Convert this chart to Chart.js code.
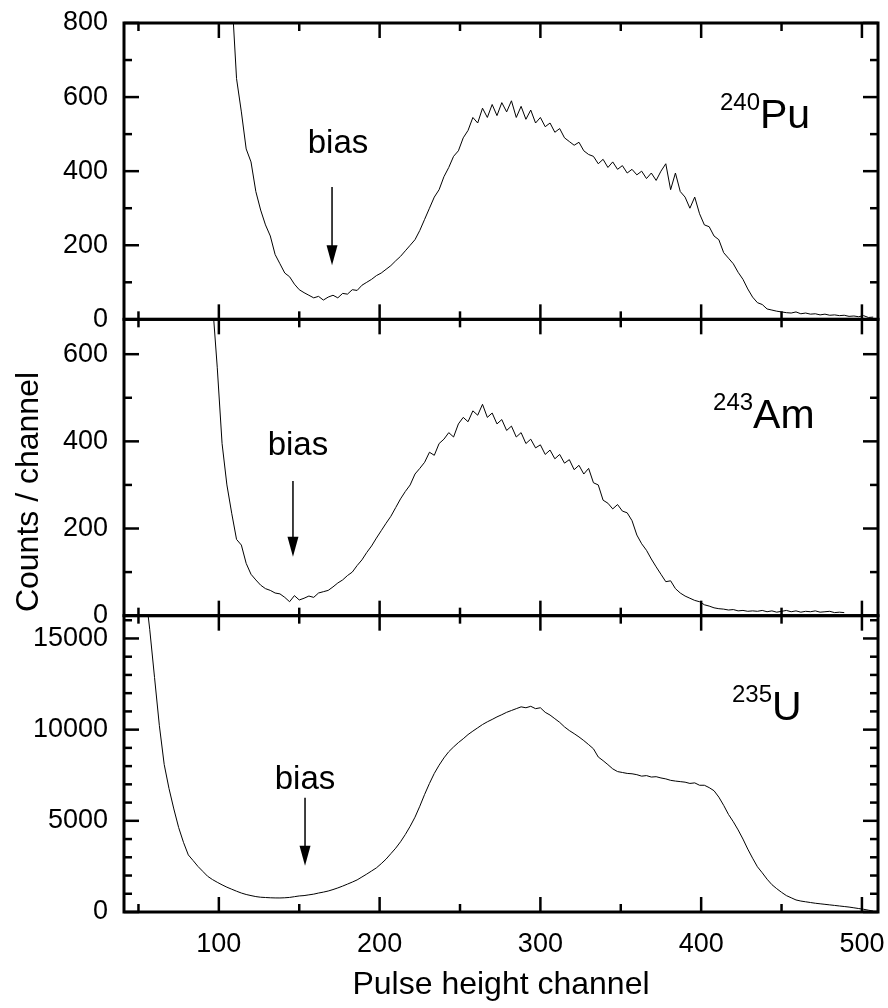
<!DOCTYPE html>
<html>
<head>
<meta charset="utf-8">
<script src="https://cdn.jsdelivr.net/npm/chart.js@4.4.1/dist/chart.umd.min.js"></script>
<style>
html,body{margin:0;padding:0;background:#fff;}
canvas{display:block;}
</style>
</head>
<body>
<canvas id="c" width="888" height="1008"></canvas>
<script>
// ---------------- data ----------------
const puChannels = [
108,111,114,117,120,123,126,129,132,135,
138,141,144,147,150,153,156,159,162,165,
168,171,174,177,180,183,186,189,192,195,
198,201,204,207,210,213,216,219,222,225,
228,231,234,237,240,243,246,249,252,255,
258,261,264,267,270,273,276,279,282,285,
288,291,294,297,300,303,306,309,312,315,
318,321,324,327,330,333,336,339,342,345,
348,351,354,357,360,363,366,369,372,375,
378,381,384,387,390,393,396,399,402,405,
408,411,414,417,420,423,426,429,432,435,
438,441,444,447,450,453,456,459,462,465,
468,471,474,477,480,483,486,489,492,495,
498,501,504,507];
const puCounts = [
880,650,560,460,425,345,295,255,225,175,
150,125,115,95,80,72,65,58,62,52,
60,65,58,70,68,80,78,92,100,108,
118,125,135,145,158,170,185,200,215,240,
270,300,330,350,385,410,440,455,490,510,
545,530,570,545,580,550,585,560,590,545,
575,540,565,530,545,520,530,505,515,490,
480,470,478,455,445,440,420,432,410,425,
405,415,395,405,390,400,380,395,375,400,
420,350,395,345,330,300,330,285,255,250,
225,215,180,165,150,127,108,82,60,45,
40,28,25,22,20,18,17,20,15,17,
14,15,12,14,11,12,10,11,8,9,
7,10,5,6];

const amChannels = [
96,99,102,105,108,111,114,117,120,123,
126,129,132,135,138,141,144,147,150,153,
156,159,162,165,168,171,174,177,180,183,
186,189,192,195,198,201,204,207,210,213,
216,219,222,225,228,231,234,237,240,243,
246,249,252,255,258,261,264,267,270,273,
276,279,282,285,288,291,294,297,300,303,
306,309,312,315,318,321,324,327,330,333,
336,339,342,345,348,351,354,357,360,363,
366,369,372,375,378,381,384,387,390,393,
396,399,402,405,408,411,414,417,420,423,
426,429,432,435,438,441,444,447,450,453,
456,459,462,465,468,471,474,477,480,483,
486,489];
const amCounts = [
720,570,395,300,235,175,162,120,95,82,
70,62,58,52,50,42,32,46,36,40,
45,42,52,55,58,66,75,82,92,100,
115,128,145,160,178,195,212,228,248,268,
285,300,325,338,352,375,368,395,405,420,
410,440,455,445,470,460,485,455,465,440,
450,425,435,410,420,395,405,385,392,370,
380,360,370,350,358,335,345,325,338,305,
300,265,258,245,255,240,236,218,185,165,
150,130,112,95,78,80,62,52,45,40,
35,32,25,22,18,16,15,13,14,11,
12,10,11,10,12,9,11,8,10,12,
9,11,8,10,9,11,8,9,10,7,
8,7];

const uChannels = [
54,57,60,63,66,69,72,75,78,81,
84,87,90,93,96,99,102,105,108,111,
114,117,120,123,126,129,132,135,138,141,
144,147,150,153,156,159,162,165,168,171,
174,177,180,183,186,189,192,195,198,201,
204,207,210,213,216,219,222,225,228,231,
234,237,240,243,246,249,252,255,258,261,
264,267,270,273,276,279,282,285,288,291,
294,297,300,303,306,309,312,315,318,321,
324,327,330,333,336,339,342,345,348,351,
354,357,360,363,366,369,372,375,378,381,
384,387,390,393,396,399,402,405,408,411,
414,417,420,423,426,429,432,435,438,441,
444,447,450,453,456,459,462,465,468,471,
474,477,480,483,486,489,492,495,498,501,
504,507];
const uCounts = [
17800,15500,12860,10220,8090,6770,5650,4630,3820,3130,
2820,2500,2230,1960,1780,1630,1490,1360,1250,1140,
1040,960,900,845,810,795,780,772,770,780,
800,840,880,900,940,980,1040,1090,1150,1230,
1320,1420,1530,1640,1760,1920,2080,2250,2420,2650,
2900,3200,3500,3850,4250,4700,5200,5800,6450,7050,
7600,8050,8450,8790,9050,9290,9500,9730,9920,10100,
10280,10430,10560,10700,10820,10950,11050,11150,11250,11200,
11280,11150,11200,10950,10800,10600,10400,10150,9950,9780,
9600,9400,9180,8950,8500,8300,8080,7850,7700,7650,
7600,7580,7530,7450,7480,7400,7420,7350,7300,7220,
7180,7150,7120,7050,7080,6950,6950,6820,6650,6300,
5850,5350,4950,4500,4000,3450,2950,2480,2150,1800,
1500,1280,1080,900,780,660,600,560,520,480,
450,420,390,360,330,300,270,230,190,150,
100,50];

// tick values
const xMajorTicks = [100, 200, 300, 400, 500];
const xMinorTicks = [50, 150, 250, 350, 450];
const puMajorTicks = [0, 200, 400, 600, 800];
const puMinorTicks = [100, 300, 500, 700];
const amMajorTicks = [0, 200, 400, 600];
const amMinorTicks = [100, 300, 500];
const uMajorTicks = [0, 5000, 10000, 15000];
const uMinorTicks = [1000, 2000, 3000, 4000, 6000, 7000, 8000, 9000, 11000, 12000, 13000, 14000, 16000];

// annotations (data coordinates)
const isotopeLabels = [
  {axis: 'yPu', mass: '240', symbol: 'Pu', ch: 411.7, val: 516},
  {axis: 'yAm', mass: '243', symbol: 'Am', ch: 407.4, val: 430},
  {axis: 'yU',  mass: '235', symbol: 'U',  ch: 419.2, val: 10550}
];
const biasLabels = [
  {axis: 'yPu', ch: 174.1, val: 449},
  {axis: 'yAm', ch: 149.2, val: 368},
  {axis: 'yU',  ch: 153.6, val: 6760}
];
const biasArrows = [
  {axis: 'yPu', ch: 170.4, from: 357, to: 146},
  {axis: 'yAm', ch: 146.1, from: 309, to: 135},
  {axis: 'yU',  ch: 153.6, from: 6260, to: 2530}
];

// ---------------- chart ----------------
const FONT = '"Liberation Sans", Arial, Helvetica, sans-serif';
const toXY = (xs, ys) => xs.map((x, i) => ({x: x, y: ys[i]}));

const panels = [
  {id: 'yPu', major: puMajorTicks, minor: puMinorTicks},
  {id: 'yAm', major: amMajorTicks, minor: amMinorTicks},
  {id: 'yU',  major: uMajorTicks,  minor: uMinorTicks}
];

const MAJ = 15, MIN = 8;

function line(ctx, x1, y1, x2, y2) {
  ctx.beginPath(); ctx.moveTo(x1, y1); ctx.lineTo(x2, y2); ctx.stroke();
}

const framePlugin = {
  id: 'frame',
  beforeDatasetDraw(chart, args) {
    const ds = chart.data.datasets[args.index];
    const s = chart.scales[ds.yAxisID];
    const ca = chart.chartArea;
    chart.ctx.save();
    chart.ctx.beginPath();
    chart.ctx.rect(ca.left, s.top, ca.right - ca.left, s.bottom - s.top);
    chart.ctx.clip();
  },
  afterDatasetDraw(chart) {
    chart.ctx.restore();
  },
  afterDraw(chart) {
    const ctx = chart.ctx, xs = chart.scales.x, ca = chart.chartArea;
    ctx.save();
    ctx.strokeStyle = '#000';
    ctx.fillStyle = '#000';
    ctx.lineCap = 'butt';
    panels.forEach(p => {
      const s = chart.scales[p.id];
      ctx.lineWidth = 3;
      ctx.strokeRect(ca.left, s.top, ca.right - ca.left, s.bottom - s.top);
      ctx.lineWidth = 2.5;
      const drawY = (vals, len) => vals.forEach(v => {
        if (v < s.min || v > s.max) return;
        const y = s.getPixelForValue(v);
        line(ctx, ca.left, y, ca.left + len, y);
        line(ctx, ca.right, y, ca.right - len, y);
      });
      drawY(p.major, MAJ);
      drawY(p.minor, MIN);
      const drawX = (vals, len) => vals.forEach(v => {
        if (v < xs.min || v > xs.max) return;
        const x = xs.getPixelForValue(v);
        line(ctx, x, s.top, x, s.top + len);
        line(ctx, x, s.bottom, x, s.bottom - len);
      });
      drawX(xMajorTicks, MAJ);
      drawX(xMinorTicks, MIN);
    });

    // isotope labels
    ctx.textBaseline = 'alphabetic';
    ctx.textAlign = 'left';
    isotopeLabels.forEach(l => {
      const s = chart.scales[l.axis];
      const x = xs.getPixelForValue(l.ch);
      const y = s.getPixelForValue(l.val);
      ctx.font = '24px ' + FONT;
      ctx.fillText(l.mass, x, y - 18);
      const w = ctx.measureText(l.mass).width;
      ctx.font = '41px ' + FONT;
      ctx.fillText(l.symbol, x + w, y);
    });

    // bias labels
    ctx.font = '33px ' + FONT;
    ctx.textAlign = 'center';
    biasLabels.forEach(l => {
      const s = chart.scales[l.axis];
      ctx.fillText('bias', xs.getPixelForValue(l.ch), s.getPixelForValue(l.val));
    });

    // arrows
    ctx.lineWidth = 1.5;
    biasArrows.forEach(a => {
      const s = chart.scales[a.axis];
      const x = xs.getPixelForValue(a.ch);
      const y1 = s.getPixelForValue(a.from);
      const y2 = s.getPixelForValue(a.to);
      line(ctx, x, y1, x, y2 - 16);
      ctx.beginPath();
      ctx.moveTo(x - 5.5, y2 - 20);
      ctx.lineTo(x + 5.5, y2 - 20);
      ctx.lineTo(x, y2);
      ctx.closePath();
      ctx.fill();
    });

    // y title
    ctx.save();
    ctx.font = '32px ' + FONT;
    ctx.textAlign = 'center';
    ctx.textBaseline = 'middle';
    ctx.translate(29, 492);
    ctx.rotate(-Math.PI / 2);
    ctx.fillText('Counts / channel', 0, 0);
    ctx.restore();

    ctx.restore();
  }
};

const noPad = s => { s.paddingTop = 0; s.paddingBottom = 0; s.paddingLeft = 0; s.paddingRight = 0; };

const yCommon = (min, max, major) => ({
  type: 'linear',
  position: 'left',
  stack: 'panels',
  stackWeight: 1,
  min: min,
  max: max,
  grid: {display: false, drawTicks: false},
  border: {display: false},
  ticks: {font: {family: FONT, size: 27}, color: '#000', padding: 16, autoSkip: false,
          callback: v => String(v)},
  afterBuildTicks: s => { s.ticks = major.map(v => ({value: v})); },
  afterFit: s => { s.width = 124; noPad(s); }
});

const lineDs = (label, xs, ys, axis) => ({
  label: label,
  data: toXY(xs, ys),
  yAxisID: axis,
  xAxisID: 'x',
  borderColor: '#000',
  borderWidth: 1,
  pointRadius: 0,
  fill: false,
  tension: 0
});

new Chart(document.getElementById('c'), {
  type: 'line',
  data: {
    datasets: [
      lineDs('235U', uChannels, uCounts, 'yU'),
      lineDs('243Am', amChannels, amCounts, 'yAm'),
      lineDs('240Pu', puChannels, puCounts, 'yPu')
    ]
  },
  options: {
    responsive: false,
    animation: false,
    devicePixelRatio: 1,
    layout: {padding: {top: 23, right: 10, left: 0, bottom: 0}},
    plugins: {legend: {display: false}, tooltip: {enabled: false}},
    scales: {
      x: {
        type: 'linear',
        position: 'bottom',
        min: 41,
        max: 510,
        grid: {display: false, drawTicks: false},
        border: {display: false},
        ticks: {font: {family: FONT, size: 27}, color: '#000', padding: 16, maxRotation: 0, autoSkip: false,
                callback: v => String(v)},
        afterBuildTicks: s => { s.ticks = xMajorTicks.map(v => ({value: v})); },
        afterFit: s => { s.height = 96; noPad(s); },
        title: {display: true, text: 'Pulse height channel', color: '#000',
                font: {family: FONT, size: 32}, padding: {top: 0, bottom: 4}}
      },
      yU: yCommon(0, 16250, uMajorTicks),
      yAm: yCommon(0, 680, amMajorTicks),
      yPu: yCommon(0, 800, puMajorTicks)
    }
  },
  plugins: [framePlugin]
});
</script>
</body>
</html>
